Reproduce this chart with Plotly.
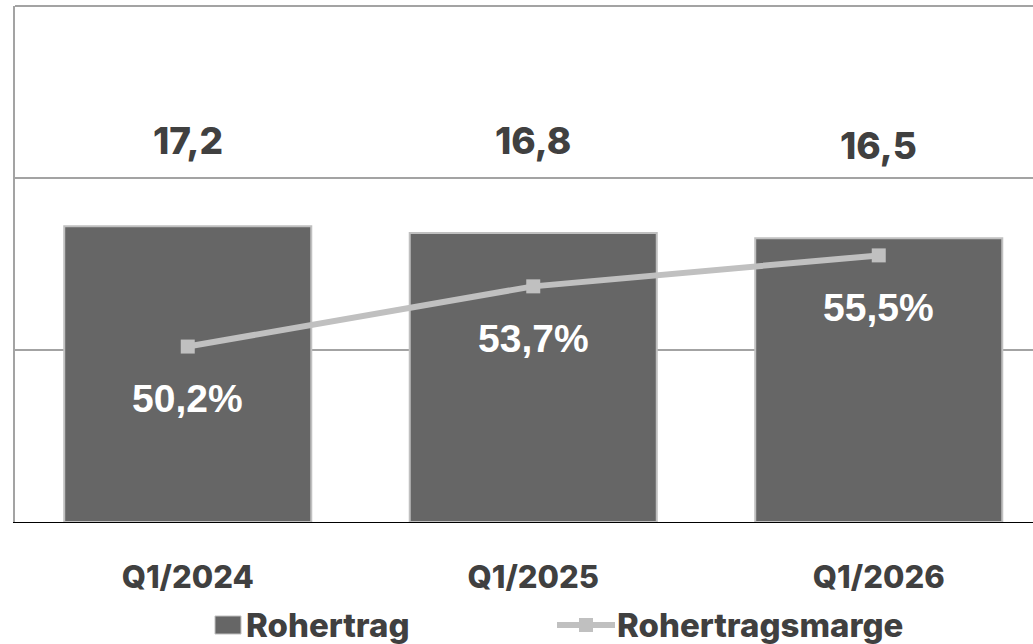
import plotly.graph_objects as go

# Quarterly gross profit (EUR m) and gross margin (%)
quarters = ["Q1/2024", "Q1/2025", "Q1/2026"]
rohertrag = [17.2, 16.8, 16.5]
marge = [50.2, 53.7, 55.5]

bar_labels = ["17,2", "16,8", "16,5"]
marge_labels = ["50,2%", "53,7%", "55,5%"]

W, H = 1033, 644
ML, MR, MT, MB = 15, 0, 6, 122
PW, PH = W - ML - MR, H - MT - MB

TEXT = "#404040"
BAR = "#666666"
BAR_EDGE = "#c0c0c0"
LINE = "#c0c0c0"
GRID = "#a3a3a3"
FONT = "Inter, Lato, sans-serif"
NUM_FONT = "Liberation Sans, Arial, sans-serif"


def px_x(x):
    return (x - ML) / PW


def px_y(y):
    return (H - MB - y) / PH


fig = go.Figure()

fig.add_trace(go.Bar(
    x=quarters, y=rohertrag, name="Rohertrag",
    marker=dict(color=BAR, line=dict(color=BAR_EDGE, width=2)),
    width=0.715,
))

fig.add_trace(go.Scatter(
    x=quarters, y=marge, name="Rohertragsmarge", yaxis="y2",
    mode="lines+markers",
    line=dict(color=LINE, width=6),
    marker=dict(symbol="square", size=14, color=LINE),
))

# value labels above the bars
bar_shift = [86, 93, 93]
for q, v, t, s in zip(quarters, rohertrag, bar_labels, bar_shift):
    fig.add_annotation(x=q, y=v, yref="y", text=t, showarrow=False,
                       yshift=s, font=dict(family=FONT, size=37, color=TEXT, weight=800))

# margin labels below the line markers
for q, v, t in zip(quarters, marge, marge_labels):
    fig.add_annotation(x=q, y=v, yref="y2", text=f"<b>{t}</b>", showarrow=False,
                       yshift=-52, font=dict(family=NUM_FONT, size=39, color="white"))

# legend
fig.add_shape(type="rect", xref="paper", yref="paper",
              x0=px_x(215), x1=px_x(241), y0=px_y(616), y1=px_y(634),
              fillcolor=BAR, line=dict(color=BAR_EDGE, width=1))
fig.add_annotation(xref="paper", yref="paper", x=px_x(244), y=px_y(625),
                   xanchor="left", yanchor="middle", showarrow=False,
                   text="Rohertrag", font=dict(family=FONT, size=33, color=TEXT, weight=800))
fig.add_shape(type="line", xref="paper", yref="paper",
              x0=px_x(557), x1=px_x(615), y0=px_y(625), y1=px_y(625),
              line=dict(color=LINE, width=6))
fig.add_shape(type="rect", xref="paper", yref="paper",
              x0=px_x(579), x1=px_x(593), y0=px_y(618), y1=px_y(632),
              fillcolor=LINE, line=dict(width=0))
fig.add_annotation(xref="paper", yref="paper", x=px_x(615), y=px_y(625),
                   xanchor="left", yanchor="middle", showarrow=False,
                   text="Rohertragsmarge", font=dict(family=FONT, size=33, color=TEXT, weight=800))

# top frame line
fig.add_shape(type="line", xref="paper", yref="paper", x0=0, x1=1, y0=1, y1=1,
              line=dict(color=GRID, width=2))

fig.update_layout(
    width=W, height=H,
    margin=dict(l=ML, r=MR, t=MT, b=MB, pad=0),
    paper_bgcolor="white", plot_bgcolor="white",
    showlegend=False,
    bargap=0.285,
    xaxis=dict(
        range=[-0.5, -0.5 + PW / 345.5],
        showline=True, linecolor="#000000", linewidth=1,
        showgrid=False, ticks="outside", ticklen=0,
        tickfont=dict(family=FONT, size=31, color=TEXT, weight=800),
        ticklabelstandoff=28,
        fixedrange=True,
    ),
    yaxis=dict(
        range=[0, 30], tickvals=[0, 10, 20, 30],
        showticklabels=False, showgrid=True, gridcolor=GRID, gridwidth=2,
        showline=True, linecolor=GRID, linewidth=2,
        zeroline=False, ticks="",
    ),
    yaxis2=dict(
        range=[40, 70], overlaying="y", side="right",
        showticklabels=False, showgrid=False, zeroline=False, showline=False,
    ),
)

fig.write_html("out.html")
